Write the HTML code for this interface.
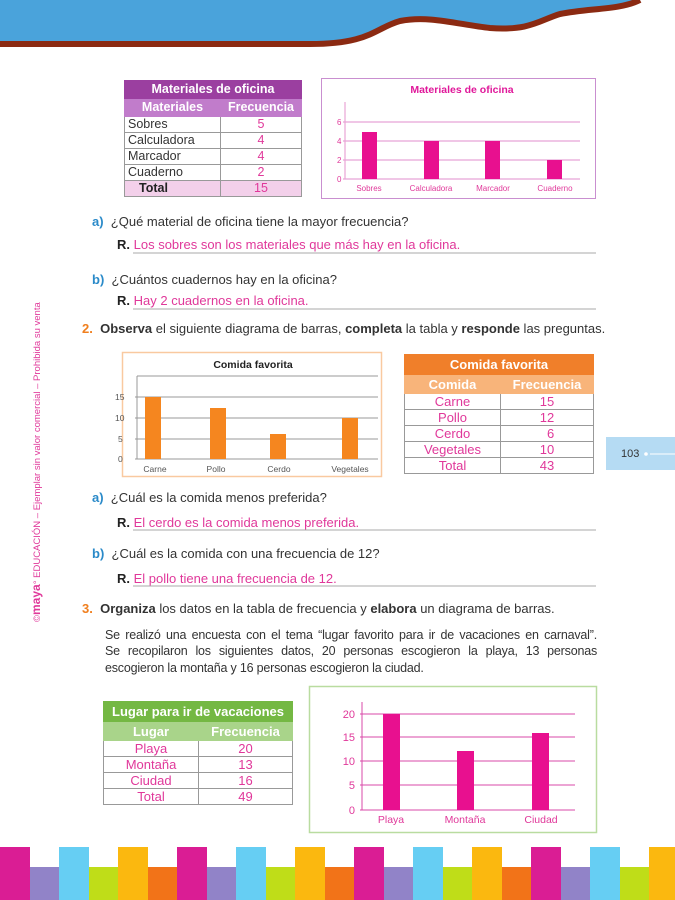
<!DOCTYPE html>
<html><head><meta charset="utf-8"><style>
body{margin:0;width:675px;height:900px;position:relative;overflow:hidden;background:#fff;font-family:"Liberation Sans",sans-serif;}
.a{position:absolute;white-space:nowrap;}
.q{font-size:13px;color:#333;}
.lab{font-weight:bold;color:#2a8ac9;}
.ans{color:#e0389a;}
.num{font-weight:bold;color:#f07f1e;}
table{position:absolute;border-collapse:collapse;font-size:12.5px;}
td{border:1px solid #999;padding:0;height:15px;line-height:15px;}
.pl{position:absolute;left:105px;width:492px;font-size:12.5px;color:#333;letter-spacing:-0.2px;text-align:justify;text-align-last:justify;white-space:nowrap;}
</style></head><body>
<svg width="675" height="900" style="position:absolute;left:0;top:0">
<path d="M0 0 H640 C620 10 590 8 560 14 C540 20 530 31 490 28 C460 25 430 15 400 21 C375 28 370 44 310 44 H0 Z" fill="#4aa3db"/>
<path d="M0 44 H310 C370 44 375 28 400 21 C430 15 460 25 490 28 C530 31 540 20 560 14 C590 8 620 10 640 0" fill="none" stroke="#8b2a12" stroke-width="6"/>
<!-- chart 1 -->
<rect x="321.5" y="78.5" width="274" height="120" fill="#fff" stroke="#c98fd0"/>
<g stroke="#e8a5d6" stroke-width="1.2">
<line x1="345" y1="102" x2="345" y2="179"/>
<line x1="343" y1="122" x2="580" y2="122"/><line x1="343" y1="141" x2="580" y2="141"/><line x1="343" y1="160" x2="580" y2="160"/><line x1="343" y1="179" x2="580" y2="179"/>
</g>
<g fill="#e8108f"><rect x="362" y="132" width="15" height="47"/><rect x="424" y="141" width="15" height="38"/><rect x="485" y="141" width="15" height="38"/><rect x="547" y="160" width="15" height="19"/></g>
<g font-size="8" fill="#e0389a" font-family="Liberation Sans"><text x="337" y="125">6</text><text x="337" y="144">4</text><text x="337" y="163">2</text><text x="337" y="182">0</text>
<text x="369" y="191" text-anchor="middle">Sobres</text><text x="431" y="191" text-anchor="middle">Calculadora</text><text x="493" y="191" text-anchor="middle">Marcador</text><text x="555" y="191" text-anchor="middle">Cuaderno</text></g>
<text x="462" y="93" font-size="10.5" font-weight="bold" fill="#e0189a" text-anchor="middle" font-family="Liberation Sans">Materiales de oficina</text>
<!-- lines -->
<g stroke="#aaa" stroke-width="1"><line x1="133" y1="253" x2="596" y2="253"/><line x1="133" y1="309" x2="596" y2="309"/><line x1="133" y1="530" x2="596" y2="530"/><line x1="133" y1="586" x2="596" y2="586"/></g>
<!-- chart 2 -->
<rect x="122.5" y="352.5" width="259" height="124" fill="#fff" stroke="#f9c9a0" stroke-width="1.5"/>
<g stroke="#999" stroke-width="1"><line x1="137" y1="376" x2="137" y2="459"/>
<line x1="135" y1="397" x2="378" y2="397"/><line x1="135" y1="418" x2="378" y2="418"/><line x1="135" y1="439" x2="378" y2="439"/><line x1="135" y1="459" x2="378" y2="459"/><line x1="137" y1="376" x2="378" y2="376"/></g>
<g fill="#f5861f"><rect x="145" y="397" width="16" height="62"/><rect x="210" y="408" width="16" height="51"/><rect x="270" y="434" width="16" height="25"/><rect x="342" y="418" width="16" height="41"/></g>
<g font-size="8.5" fill="#555" font-family="Liberation Sans"><text x="115" y="400">15</text><text x="115" y="421">10</text><text x="118" y="442">5</text><text x="118" y="462">0</text>
<text x="155" y="472" text-anchor="middle">Carne</text><text x="216" y="472" text-anchor="middle">Pollo</text><text x="279" y="472" text-anchor="middle">Cerdo</text><text x="350" y="472" text-anchor="middle">Vegetales</text></g>
<text x="253" y="368" font-size="10.5" font-weight="bold" fill="#222" text-anchor="middle" font-family="Liberation Sans">Comida favorita</text>
<!-- page tab -->
<rect x="606" y="437" width="69" height="33" fill="#b5dbf3"/>
<text x="621" y="457" font-size="11" fill="#333" font-family="Liberation Sans">103</text>
<circle cx="646" cy="454" r="1.8" fill="#fff"/><line x1="650" y1="454" x2="675" y2="454" stroke="#fff"/>
<!-- chart 3 -->
<rect x="309.5" y="686.5" width="287" height="146" fill="#fff" stroke="#b9dca0" stroke-width="1.5"/>
<g stroke="#d94aa8" stroke-width="1"><line x1="362" y1="702" x2="362" y2="810"/>
<line x1="360" y1="714" x2="575" y2="714"/><line x1="360" y1="737" x2="575" y2="737"/><line x1="360" y1="761" x2="575" y2="761"/><line x1="360" y1="785" x2="575" y2="785"/><line x1="360" y1="810" x2="575" y2="810"/></g>
<g fill="#e8108f"><rect x="383" y="714" width="17" height="96"/><rect x="457" y="751" width="17" height="59"/><rect x="532" y="733" width="17" height="77"/></g>
<g font-size="11" fill="#e0389a" font-family="Liberation Sans" text-anchor="end"><text x="355" y="718">20</text><text x="355" y="741">15</text><text x="355" y="765">10</text><text x="355" y="789">5</text><text x="355" y="814">0</text></g>
<g font-size="10.5" fill="#e0389a" font-family="Liberation Sans" text-anchor="middle"><text x="391" y="823">Playa</text><text x="465" y="823">Montaña</text><text x="541" y="823">Ciudad</text></g>
<!-- stripes -->
<g>
<rect x="0" y="847" width="30" height="53" fill="#da1d94"/><rect x="30" y="867" width="29" height="33" fill="#9183c8"/><rect x="59" y="847" width="30" height="53" fill="#66cef3"/><rect x="89" y="867" width="29" height="33" fill="#bfdd18"/><rect x="118" y="847" width="30" height="53" fill="#fbb80f"/><rect x="148" y="867" width="29" height="33" fill="#f27318"/>
<rect x="177" y="847" width="30" height="53" fill="#da1d94"/><rect x="207" y="867" width="29" height="33" fill="#9183c8"/><rect x="236" y="847" width="30" height="53" fill="#66cef3"/><rect x="266" y="867" width="29" height="33" fill="#bfdd18"/><rect x="295" y="847" width="30" height="53" fill="#fbb80f"/><rect x="325" y="867" width="29" height="33" fill="#f27318"/>
<rect x="354" y="847" width="30" height="53" fill="#da1d94"/><rect x="384" y="867" width="29" height="33" fill="#9183c8"/><rect x="413" y="847" width="30" height="53" fill="#66cef3"/><rect x="443" y="867" width="29" height="33" fill="#bfdd18"/><rect x="472" y="847" width="30" height="53" fill="#fbb80f"/><rect x="502" y="867" width="29" height="33" fill="#f27318"/>
<rect x="531" y="847" width="30" height="53" fill="#da1d94"/><rect x="561" y="867" width="29" height="33" fill="#9183c8"/><rect x="590" y="847" width="30" height="53" fill="#66cef3"/><rect x="620" y="867" width="29" height="33" fill="#bfdd18"/><rect x="649" y="847" width="26" height="53" fill="#fbb80f"/>
</g>
<text transform="translate(40,622) rotate(-90)" font-size="9.5" fill="#e0389a" font-family="Liberation Sans">©<tspan font-weight="bold" font-size="12">maya</tspan>° EDUCACIÓN – Ejemplar sin valor comercial – Prohibida su venta</text>
</svg>

<!-- table 1 -->
<table style="left:124px;top:80px;width:178px;">
<tr><td colspan="2" style="background:#9b3fa0;color:#fff;font-weight:bold;text-align:center;height:17px;border-color:#9b3fa0">Materiales de oficina</td></tr>
<tr><td style="background:#c17ccb;color:#fff;font-weight:bold;text-align:center;width:95px;height:17px;border-color:#c17ccb">Materiales</td><td style="background:#c17ccb;color:#fff;font-weight:bold;text-align:center;height:17px;border-color:#c17ccb">Frecuencia</td></tr>
<tr><td style="color:#333;padding-left:3px">Sobres</td><td style="color:#e0389a;text-align:center">5</td></tr>
<tr><td style="color:#333;padding-left:3px">Calculadora</td><td style="color:#e0389a;text-align:center">4</td></tr>
<tr><td style="color:#333;padding-left:3px">Marcador</td><td style="color:#e0389a;text-align:center">4</td></tr>
<tr><td style="color:#333;padding-left:3px">Cuaderno</td><td style="color:#e0389a;text-align:center">2</td></tr>
<tr style="background:#f3d0ea"><td style="color:#222;font-weight:bold;padding-left:14px">Total</td><td style="color:#e0389a;text-align:center">15</td></tr>
</table>

<div class="a q" style="left:92px;top:214px"><span class="lab">a)</span>&nbsp;&nbsp;¿Qué material de oficina tiene la mayor frecuencia?</div>
<div class="a q" style="left:117px;top:237px"><b style="color:#222">R.</b> <span class="ans">Los sobres son los materiales que más hay en la oficina.</span></div>
<div class="a q" style="left:92px;top:272px"><span class="lab">b)</span>&nbsp;&nbsp;¿Cuántos cuadernos hay en la oficina?</div>
<div class="a q" style="left:117px;top:293px"><b style="color:#222">R.</b> <span class="ans">Hay 2 cuadernos en la oficina.</span></div>
<div class="a q" style="left:82px;top:321px"><span class="num">2.</span>&nbsp;&nbsp;<b>Observa</b> el siguiente diagrama de barras, <b>completa</b> la tabla y <b>responde</b> las preguntas.</div>

<!-- table 2 -->
<table style="left:404px;top:354px;width:190px;font-size:13px;color:#e0389a;text-align:center">
<tr><td colspan="2" style="background:#f07f2a;color:#fff;font-weight:bold;height:19px;border-color:#f07f2a">Comida favorita</td></tr>
<tr><td style="background:#f8b47a;color:#fff;font-weight:bold;width:95px;height:18px;border-color:#f8b47a">Comida</td><td style="background:#f8b47a;color:#fff;font-weight:bold;height:18px;border-color:#f8b47a">Frecuencia</td></tr>
<tr><td>Carne</td><td>15</td></tr><tr><td>Pollo</td><td>12</td></tr><tr><td>Cerdo</td><td>&nbsp;&nbsp;6</td></tr><tr><td>Vegetales</td><td>10</td></tr><tr><td>Total</td><td>43</td></tr>
</table>

<div class="a q" style="left:92px;top:490px"><span class="lab">a)</span>&nbsp;&nbsp;¿Cuál es la comida menos preferida?</div>
<div class="a q" style="left:117px;top:515px"><b style="color:#222">R.</b> <span class="ans">El cerdo es la comida menos preferida.</span></div>
<div class="a q" style="left:92px;top:546px"><span class="lab">b)</span>&nbsp;&nbsp;¿Cuál es la comida con una frecuencia de 12?</div>
<div class="a q" style="left:117px;top:571px"><b style="color:#222">R.</b> <span class="ans">El pollo tiene una frecuencia de 12.</span></div>
<div class="a q" style="left:82px;top:601px"><span class="num">3.</span>&nbsp;&nbsp;<b>Organiza</b> los datos en la tabla de frecuencia y <b>elabora</b> un diagrama de barras.</div>
<div class="pl" style="top:628px">Se realizó una encuesta con el tema “lugar favorito para ir de vacaciones en carnaval”.</div>
<div class="pl" style="top:644px">Se recopilaron los siguientes datos, 20 personas escogieron la playa, 13 personas</div>
<div class="pl" style="top:661px;text-align-last:left">escogieron la montaña y 16 personas escogieron la ciudad.</div>

<!-- table 3 -->
<table style="left:103px;top:701px;width:190px;font-size:13px;color:#e0389a;text-align:center">
<tr><td colspan="2" style="background:#74b843;color:#fff;font-weight:bold;height:19px;border-color:#74b843">Lugar para ir de vacaciones</td></tr>
<tr><td style="background:#a9d48a;color:#fff;font-weight:bold;width:94px;height:18px;border-color:#a9d48a">Lugar</td><td style="background:#a9d48a;color:#fff;font-weight:bold;height:18px;border-color:#a9d48a">Frecuencia</td></tr>
<tr><td>Playa</td><td>20</td></tr><tr><td>Montaña</td><td>13</td></tr><tr><td>Ciudad</td><td>16</td></tr><tr><td>Total</td><td>49</td></tr>
</table>
</body></html>
